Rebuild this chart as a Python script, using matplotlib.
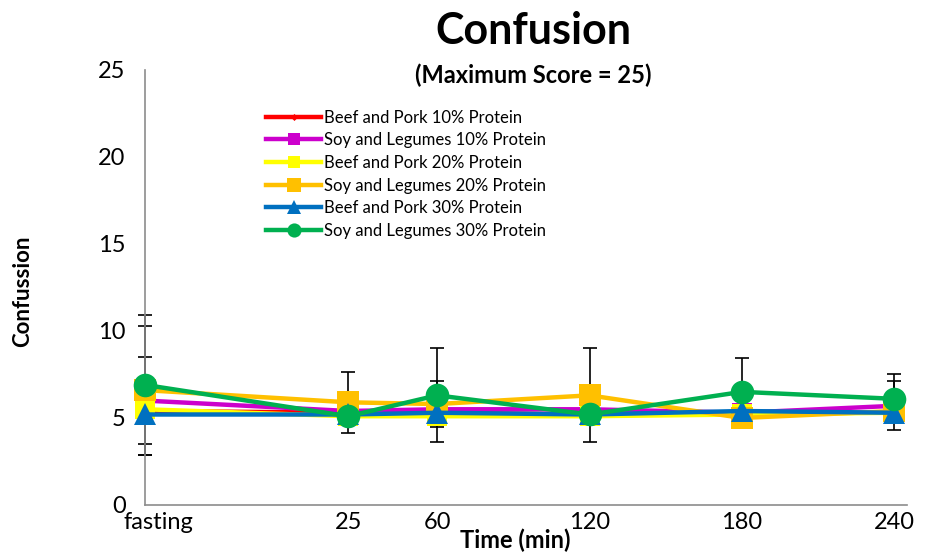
import numpy as np
import matplotlib
matplotlib.use("Agg")
import matplotlib.pyplot as plt
from matplotlib.transforms import ScaledTranslation

plt.rcParams['font.family'] = ['Lato', 'DejaVu Sans']

time_labels = ['fasting', '25', '60', '120', '180', '240']
time_x = [-55, 25, 60, 120, 180, 240]

series_names = ['Beef and Pork 10% Protein', 'Soy and Legumes 10% Protein',
                'Beef and Pork 20% Protein', 'Soy and Legumes 20% Protein',
                'Beef and Pork 30% Protein', 'Soy and Legumes 30% Protein']
beef10 = [5.4, 5.3, 5.3, 5.2, 5.3, 5.3]
soy10 = [6.0, 5.4, 5.5, 5.5, 5.3, 5.7]
beef20 = [5.5, 5.1, 5.1, 5.1, 5.2, 5.3]
soy20 = [6.6, 5.9, 5.8, 6.3, 5.0, 5.4]
beef30 = [5.2, 5.2, 5.3, 5.2, 5.4, 5.3]
soy30 = [6.9, 5.1, 6.3, 5.2, 6.5, 6.1]

err_beef10 = [0, 0, 0, 0, 0, 0]
err_soy10 = [2.5, 0, 0, 0, 0, 1.4]
err_beef20 = [0, 0, 0, 0, 0, 0]
err_soy20 = [3.7, 1.75, 1.3, 2.7, 0, 0]
err_beef30 = [0, 0, 0, 0, 0, 0]
err_soy30 = [4.0, 0, 2.7, 0, 1.95, 1.4]

values = [beef10, soy10, beef20, soy20, beef30, soy30]
errors = [err_beef10, err_soy10, err_beef20, err_soy20, err_beef30, err_soy30]
colors = ['#ff0000', '#cc00cc', '#ffff00', '#ffc000', '#0070c0', '#00b050']
markers = ['D', 's', 's', 's', '^', 'o']
msizes = [6, 15, 15, 16, 16, 17]

fig = plt.figure(figsize=(9.26, 5.57), dpi=100)
ax = fig.add_axes([0.1566, 0.0934, 0.823, 0.781])

x = np.array(time_x, dtype=float)
for vals, errs in zip(values, errors):
    v = np.array(vals); e = np.array(errs)
    m = e > 0
    if m.any():
        eb = ax.errorbar(x[m], v[m], yerr=e[m], fmt='none', ecolor='black',
                         elinewidth=1.2, capsize=5, capthick=1.2, zorder=1)
        for art in eb.lines[1]:
            art.set_clip_on(False)
        for art in eb.lines[2]:
            art.set_clip_on(False)

handles = []
for i, (name, vals) in enumerate(zip(series_names, values)):
    h, = ax.plot(x, vals, color=colors[i], lw=3.2, marker=markers[i],
                 markersize=msizes[i], markeredgewidth=0, label=name,
                 zorder=2 + i, clip_on=False)
    handles.append(h)

ax.set_xlim(-55, 245)
ax.set_ylim(0, 25)
ax.set_yticks([0, 5, 10, 15, 20, 25])
ax.set_xticks(x)
ax.set_xticklabels(time_labels)
ax.tick_params(axis='both', length=0, labelsize=17, colors='black')
ax.tick_params(axis='x', pad=5)
ax.tick_params(axis='y', pad=14)
lab0 = ax.get_xticklabels()[0]
lab0.set_transform(lab0.get_transform() + ScaledTranslation(13 / 100, 0, fig.dpi_scale_trans))
for s in ['top', 'right']:
    ax.spines[s].set_visible(False)
for s in ['left', 'bottom']:
    ax.spines[s].set_color('#8c8c8c')
    ax.spines[s].set_linewidth(1.2)

leg = ax.legend(handles=handles, loc='upper left', bbox_to_anchor=(0.148, 0.928),
                frameon=False, fontsize=12, handlelength=3.3, markerscale=0.6,
                labelspacing=0.4, handletextpad=0.15, borderpad=0)

fig.text(0.576, 0.945, 'Confusion', ha='center', va='center', fontsize=31, fontweight='bold')
fig.text(0.576, 0.865, '(Maximum Score = 25)', ha='center', va='center', fontsize=17, fontweight='bold')
fig.text(0.556, 0.03, 'Time (min)', ha='center', va='center', fontsize=17, fontweight='bold')
fig.text(0.024, 0.478, 'Confussion', ha='center', va='center', fontsize=16,
         fontweight='bold', rotation=90)

fig.savefig('out.png', dpi=100)
